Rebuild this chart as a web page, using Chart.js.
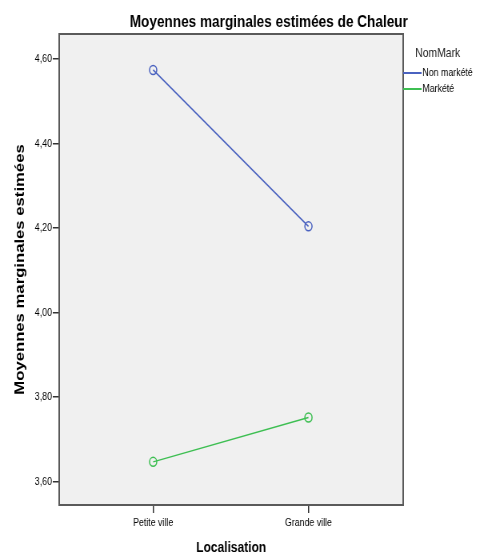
<!DOCTYPE html>
<html>
<head>
<meta charset="utf-8">
<script src="https://cdn.jsdelivr.net/npm/chart.js@4/dist/chart.umd.min.js"></script>
<style>
html, body { margin: 0; padding: 0; background: #fff; overflow: hidden; }
#zone { width: 598px; height: 555px; transform: scaleX(0.8); transform-origin: 0 0; }
</style>
</head>
<body>
<div id="zone"><canvas id="grafico"></canvas></div>
<script>
// donnees
const titre = 'Moyennes marginales estimées de Chaleur'
const titreY = 'Moyennes marginales estimées'
const titreX = 'Localisation'
const legendeTitre = 'NomMark'
const localisations = ['Petite ville', 'Grande ville']
const nonMarkete = [4.574, 4.204]
const markete = [3.647, 3.752]
const ticksY = [3.6, 3.8, 4.0, 4.2, 4.4, 4.6]

const police = "'Liberation Sans', Arial, sans-serif"
const bleu = '#4a62c0'
const vert = '#3dbf52'

const serie = (valeurs) => valeurs.map((v, i) => ({ x: i, y: v }))

const decor = {
    id: 'decor',
    beforeDraw(chart) {
        const { ctx, chartArea: a } = chart
        ctx.save()
        ctx.fillStyle = '#f0f0f0'
        ctx.fillRect(a.left, a.top, a.right - a.left, a.bottom - a.top)
        ctx.restore()
    },
    afterDraw(chart) {
        const { ctx, chartArea: a } = chart
        ctx.save()
        ctx.strokeStyle = '#5a5a5a'
        ctx.lineWidth = 2
        ctx.strokeRect(a.left, a.top, a.right - a.left, a.bottom - a.top)

        ctx.fillStyle = '#000'
        ctx.textBaseline = 'middle'
        ctx.textAlign = 'center'
        ctx.font = `bold 17px ${police}`
        ctx.fillText(titre, 336, 22)

        // legende
        ctx.textAlign = 'left'
        ctx.fillStyle = '#222'
        ctx.font = `13px ${police}`
        ctx.fillText(legendeTitre, 519, 53)
        ctx.font = `11px ${police}`
        chart.data.datasets.forEach((ds, i) => {
            const y = 73 + i * 16
            ctx.strokeStyle = ds.borderColor
            ctx.lineWidth = 2
            ctx.beginPath()
            ctx.moveTo(504, y)
            ctx.lineTo(527, y)
            ctx.stroke()
            ctx.fillStyle = '#000'
            ctx.fillText(ds.label, 528, y)
        })
        ctx.restore()
    }
}

const config = {
    type: 'line',
    data: {
        datasets: [{
            label: 'Non markété',
            data: serie(nonMarkete),
            borderColor: bleu,
            borderWidth: 1.5,
            pointStyle: 'circle',
            pointRadius: 4.5,
            pointBorderWidth: 1.5,
            pointBackgroundColor: 'rgba(0,0,0,0)',
            pointBorderColor: bleu
        }, {
            label: 'Markété',
            data: serie(markete),
            borderColor: vert,
            borderWidth: 1.5,
            pointStyle: 'circle',
            pointRadius: 4.5,
            pointBorderWidth: 1.5,
            pointBackgroundColor: 'rgba(0,0,0,0)',
            pointBorderColor: vert
        }]
    },
    options: {
        responsive: true,
        maintainAspectRatio: false,
        animation: false,
        layout: { padding: { top: 34, right: 94, bottom: 0, left: 0 } },
        plugins: { legend: { display: false }, tooltip: { enabled: false } },
        scales: {
            x: {
                type: 'linear',
                min: -0.605,
                max: 1.61,
                afterBuildTicks: (s) => { s.ticks = localisations.map((_, i) => ({ value: i })) },
                afterFit: (s) => { s.height = 50 },
                border: { display: false },
                grid: { drawOnChartArea: false, drawTicks: true, tickLength: 8, color: '#333', lineWidth: 1.5 },
                ticks: {
                    callback: (v) => localisations[v],
                    font: { family: police, size: 11 },
                    color: '#000',
                    padding: 3,
                    maxRotation: 0
                },
                title: {
                    display: true,
                    text: titreX,
                    font: { family: police, size: 15, weight: 'bold', lineHeight: 1 },
                    color: '#000',
                    padding: 0
                }
            },
            y: {
                min: 3.545,
                max: 4.659,
                afterBuildTicks: (s) => { s.ticks = ticksY.map((v) => ({ value: v })) },
                afterFit: (s) => { s.width = 74 },
                border: { display: false },
                grid: { drawOnChartArea: false, drawTicks: true, tickLength: 8, color: '#333', lineWidth: 1.5 },
                ticks: {
                    callback: (v) => v.toFixed(2).replace('.', ','),
                    font: { family: police, size: 11 },
                    color: '#000',
                    padding: 1
                },
                title: {
                    display: true,
                    text: titreY,
                    font: { family: police, size: 16.7, weight: 'bold' },
                    color: '#000',
                    padding: { top: 15, bottom: 0 }
                }
            }
        }
    },
    plugins: [decor]
}

new Chart(document.querySelector('#grafico'), config)
</script>
</body>
</html>
